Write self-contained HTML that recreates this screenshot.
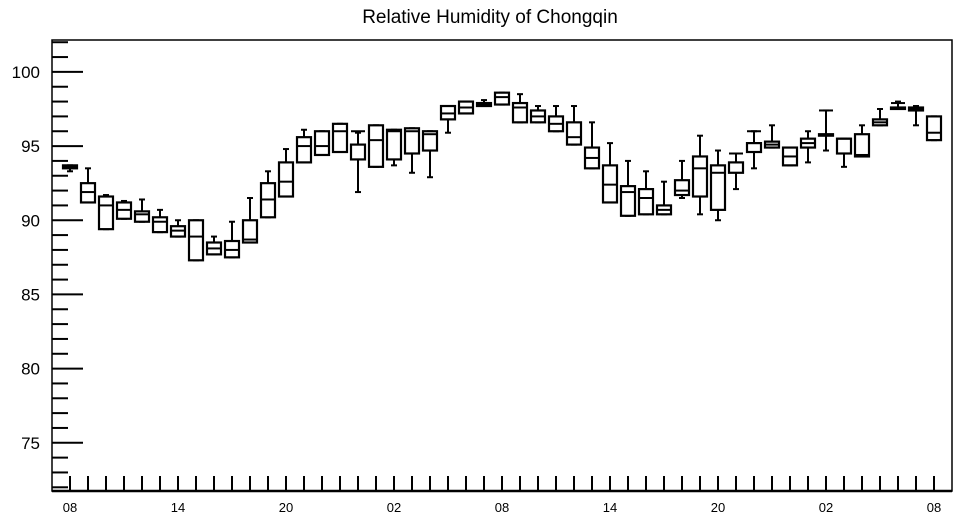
<!DOCTYPE html>
<html><head><meta charset="utf-8"><style>
body{margin:0;background:#fff;}
svg{display:block;font-family:"Liberation Sans",sans-serif;}
</style></head><body>
<svg id="chart" width="957" height="520">
<text x="490" y="23" text-anchor="middle" font-size="19">Relative Humidity of Chongqin</text>
<g id="axes"></g><g id="marks"></g>
</svg>
<script>
const categories=["08","09","10","11","12","13","14","15","16","17","18","19","20","21","22","23","00","01","02","03","04","05","06","07","08","09","10","11","12","13","14","15","16","17","18","19","20","21","22","23","00","01","02","03","04","05","06","07","08"];
const q3=[93.7,92.5,91.6,91.2,90.6,90.2,89.6,90.0,88.5,88.6,90.0,92.5,93.9,95.6,96.0,96.5,95.1,96.4,96.1,96.2,96.0,97.7,98.0,97.9,98.6,97.9,97.4,97.0,96.6,94.9,93.7,92.3,92.1,91.0,92.7,94.3,93.7,93.9,95.2,95.3,94.9,95.5,95.8,95.5,95.8,96.8,97.6,97.6,97.0];
const q1=[93.5,91.2,89.4,90.1,89.9,89.2,88.9,87.3,87.7,87.5,88.5,90.2,91.6,93.9,94.4,94.6,94.1,93.6,94.1,94.5,94.7,96.8,97.2,97.7,97.8,96.6,96.6,96.0,95.1,93.5,91.2,90.3,90.4,90.4,91.7,91.6,90.7,93.2,94.6,94.9,93.7,94.9,95.7,94.5,94.3,96.4,97.5,97.4,95.4];
const med=[93.6,91.9,91.0,90.7,90.4,89.9,89.3,88.9,88.1,88.0,88.7,91.4,92.6,95.0,95.0,96.0,96.0,95.4,96.0,96.0,95.8,97.2,97.6,97.8,98.3,97.6,97.0,96.5,95.6,94.2,92.4,91.9,91.5,90.7,92.0,93.5,93.2,94.5,96.0,95.1,94.3,95.2,97.4,95.5,94.4,96.6,97.9,97.5,95.9];
const hi=[93.7,93.5,91.7,91.3,91.4,90.7,90.0,90.0,88.9,89.9,91.5,93.3,94.8,96.1,96.0,96.5,95.9,96.4,96.1,96.2,96.0,97.7,98.0,98.1,98.6,98.5,97.7,97.7,97.7,96.6,95.2,94.0,93.3,92.6,94.0,95.7,94.7,94.5,96.0,96.4,94.9,96.0,97.4,95.5,96.4,97.5,98.0,97.7,97.0];
const lo=[93.3,91.2,89.4,90.1,89.9,89.2,88.9,87.3,87.7,87.5,88.5,90.2,91.6,93.9,94.4,94.6,91.9,93.6,93.7,93.2,92.9,95.9,97.2,97.7,97.8,96.6,96.6,96.0,95.1,93.5,91.2,90.3,90.4,90.4,91.5,90.4,90.0,92.1,93.5,94.9,93.7,93.9,94.7,93.6,94.3,96.4,97.5,96.4,95.4];
const yTicks=[75,80,85,90,95,100];
const xLabels=["08","14","20","02","08","14","20","02","08"];

const NS="http://www.w3.org/2000/svg";
const L=52,R=952,T=40,B=491;
const yMin=71.75,yMax=102.15;
const y=v=>B-(v-yMin)/(yMax-yMin)*(B-T);
const x=i=>70+i*18;
function mk(tag,attrs,parent){const e=document.createElementNS(NS,tag);for(const k in attrs)e.setAttribute(k,attrs[k]);parent.appendChild(e);return e;}
const axes=document.getElementById('axes'),marks=document.getElementById('marks');
const frame=mk('rect',{x:L,y:T,width:R-L,height:B-T,fill:'none',stroke:'#000','stroke-width':1.5},axes);


for(let v=72;v<=102;v++){
  const major=v%5===0;
  const t=mk('line',{x1:L,x2:L+(major?31:16),y1:y(v),y2:y(v),stroke:'#000','stroke-width':2},axes);
  
  
}
yTicks.forEach(v=>{
  const t=mk('text',{x:40,y:y(v)+6,'text-anchor':'end','font-size':17},axes);
  t.textContent=v;
  
  
});
for(let i=0;i<categories.length;i++){
  const t=mk('line',{x1:x(i),x2:x(i),y1:B,y2:B-15,stroke:'#000','stroke-width':2},axes);
  
  
}
xLabels.forEach((s,k)=>{
  const t=mk('text',{x:x(k*6),y:512,'text-anchor':'middle','font-size':13},axes);
  t.textContent=s;
  
  
});
mk('line',{x1:L,x2:R,y1:B,y2:B,stroke:'#000','stroke-width':2.5},axes);
for(let i=0;i<categories.length;i++){
  const g=mk('g',{},marks);
  
  
  const cx=x(i),top=y(q3[i]),bot=y(q1[i]);
  mk('line',{x1:cx,x2:cx,y1:y(hi[i]),y2:top,stroke:'#000','stroke-width':2},g);
  mk('line',{x1:cx,x2:cx,y1:bot,y2:y(lo[i]),stroke:'#000','stroke-width':2},g);
  mk('line',{x1:cx-3,x2:cx+3,y1:y(hi[i]),y2:y(hi[i]),stroke:'#000','stroke-width':2},g);
  mk('line',{x1:cx-3,x2:cx+3,y1:y(lo[i]),y2:y(lo[i]),stroke:'#000','stroke-width':2},g);
  mk('rect',{x:cx-7,y:top,width:14,height:Math.max(1,bot-top),fill:'#fff',stroke:'#000','stroke-width':2.2},g);
  mk('line',{x1:cx-7,x2:cx+7,y1:y(med[i]),y2:y(med[i]),stroke:'#000','stroke-width':2},g);
}
</script>
</body></html>
